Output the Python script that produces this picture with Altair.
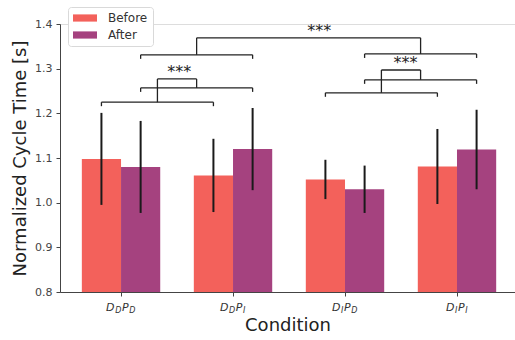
import altair as alt
import pandas as pd

# ---------------- data ----------------
groups = [0, 1, 2, 3]
label_main = [("D", "P"), ("D", "P"), ("D", "P"), ("D", "P")]
label_sub = [("D", "D"), ("D", "I"), ("I", "D"), ("I", "I")]
phases = ["Before", "After"]
before_mean = [1.098, 1.061, 1.052, 1.081]
before_err = [0.103, 0.082, 0.044, 0.084]
after_mean = [1.080, 1.120, 1.030, 1.119]
after_err = [0.103, 0.092, 0.053, 0.089]
colors = ["#F3615B", "#A5427F"]

# significance brackets: (group a, group b, phase, height)
bracket_defs = [
    (0, 1, "Before", 1.225),
    (0, 1, "After", 1.257),
    (2, 3, "Before", 1.246),
    (2, 3, "After", 1.275),
    (0, 1, "After", 1.331),
    (2, 3, "After", 1.333),
]
# connectors between bracket midpoints: (bracket i, bracket j, top height)
connector_defs = [(0, 1, 1.277), (2, 3, 1.297), (4, 5, 1.369)]
star_x = [0.52, 2.54, 1.77]
star_text = ["***", "***", "***"]

# ---------------- layout constants ----------------
W, H = 455, 268
X_DOMAIN = [-0.545, 3.518]
Y_DOMAIN = [0.8, 1.4]
BAR_W = 0.35
TICK = 0.009
PX = W / (X_DOMAIN[1] - X_DOMAIN[0])  # pixels per x unit
FONT = "DejaVu Sans"

offset = {"Before": -BAR_W / 2, "After": BAR_W / 2}

rows = []
for g in groups:
    for ph, means, errs in (("Before", before_mean, before_err), ("After", after_mean, after_err)):
        c = g + offset[ph]
        rows.append(dict(phase=ph, xc=c, xl=c - BAR_W / 2, xr=c + BAR_W / 2,
                         mean=means[g], lo=means[g] - errs[g], hi=means[g] + errs[g], base=0.8))
bars = pd.DataFrame(rows)

segs = []
mids = []
for a, b, ph, y in bracket_defs:
    xa, xb = a + offset[ph], b + offset[ph]
    segs.append(dict(x=xa, x2=xb, y=y, y2=y))
    segs.append(dict(x=xa, x2=xa, y=y, y2=y - TICK))
    segs.append(dict(x=xb, x2=xb, y=y, y2=y - TICK))
    mids.append(((xa + xb) / 2, y))
for i, j, top in connector_defs:
    (xi, yi), (xj, yj) = mids[i], mids[j]
    segs.append(dict(x=xi, x2=xi, y=yi, y2=top))
    segs.append(dict(x=xi, x2=xj, y=top, y2=top))
    segs.append(dict(x=xj, x2=xj, y=yj, y2=top))
segs = pd.DataFrame(segs)

stars = pd.DataFrame(dict(x=star_x, y=[c[2] for c in connector_defs], t=star_text))

# tick labels with subscripts
EM = {"D": 0.770, "P": 0.603, "I": 0.295}
MAIN_FS, SUB_FS = 11, 8
main_rows, sub_rows = [], []
for g in groups:
    pieces = [(label_main[g][0], "m"), (label_sub[g][0], "s"), (label_main[g][1], "m"), (label_sub[g][1], "s")]
    widths = [EM[ch] * (MAIN_FS if k == "m" else SUB_FS) + 0.6 for ch, k in pieces]
    start = -sum(widths) / 2
    for (ch, k), w in zip(pieces, widths):
        row = dict(x=g + start / PX, t=ch)
        (main_rows if k == "m" else sub_rows).append(row)
        start += w
main_lab = pd.DataFrame(main_rows)
sub_lab = pd.DataFrame(sub_rows)

# ---------------- chart ----------------
xscale = alt.Scale(domain=X_DOMAIN, nice=False, zero=False)
yscale = alt.Scale(domain=Y_DOMAIN, nice=False, zero=False)
x_axis = alt.Axis(values=groups, labels=False, tickSize=4, title="Condition",
                  titleFontSize=18, titleFontWeight="normal", titleColor="#222",
                  titlePadding=20, domainColor="#444", tickColor="#444", grid=False)
y_axis = alt.Axis(values=[0.8, 0.9, 1.0, 1.1, 1.2, 1.3, 1.4], format=".1f", tickSize=4,
                  labelFontSize=11, labelColor="#444", labelPadding=4,
                  title="Normalized Cycle Time [s]", titleFontSize=18,
                  titleFontWeight="normal", titleColor="#222", titlePadding=5,
                  domainColor="#444", tickColor="#444", grid=False)

bar_layer = alt.Chart(bars).mark_bar().encode(
    x=alt.X("xl:Q", scale=xscale, axis=x_axis),
    x2="xr:Q",
    y=alt.Y("mean:Q", scale=yscale, axis=y_axis),
    y2="base:Q",
    color=alt.Color("phase:N", scale=alt.Scale(domain=phases, range=colors),
                    legend=alt.Legend(orient="none", legendX=8, legendY=-17, title=None,
                                      symbolType="M-1,-0.6H3V0.6H-1Z", symbolSize=144,
                                      symbolStrokeWidth=0, symbolOpacity=1,
                                      labelFontSize=12, labelColor="#333", labelOffset=23,
                                      fillColor="white", strokeColor="#d9d9d9",
                                      padding=5, cornerRadius=3, rowPadding=5)),
)

err_layer = alt.Chart(bars).mark_rule(color="#1a1a1a", strokeWidth=2).encode(
    x=alt.X("xc:Q", scale=xscale, axis=x_axis),
    y=alt.Y("lo:Q", scale=yscale, axis=y_axis),
    y2="hi:Q",
)

bracket_layer = alt.Chart(segs).mark_rule(color="#222", strokeWidth=1.3).encode(
    x=alt.X("x:Q", scale=xscale, axis=x_axis),
    x2="x2:Q",
    y=alt.Y("y:Q", scale=yscale, axis=y_axis),
    y2="y2:Q",
)

star_layer = alt.Chart(stars).mark_text(fontSize=16, baseline="alphabetic", dy=-2, color="#222").encode(
    x=alt.X("x:Q", scale=xscale, axis=x_axis),
    y=alt.Y("y:Q", scale=yscale, axis=y_axis),
    text="t:N",
)

main_layer = alt.Chart(main_lab).mark_text(fontSize=MAIN_FS, fontStyle="italic", align="left",
                                           baseline="alphabetic", dy=19, color="#333").encode(
    x=alt.X("x:Q", scale=xscale, axis=x_axis),
    y=alt.datum(0.8, scale=yscale, axis=y_axis),
    text="t:N",
)
sub_layer = alt.Chart(sub_lab).mark_text(fontSize=SUB_FS, fontStyle="italic", align="left",
                                         baseline="alphabetic", dy=21, color="#333").encode(
    x=alt.X("x:Q", scale=xscale, axis=x_axis),
    y=alt.datum(0.8, scale=yscale, axis=y_axis),
    text="t:N",
)

chart = alt.layer(bar_layer, err_layer, bracket_layer, star_layer, main_layer, sub_layer).properties(
    width=W, height=H,
    autosize=alt.AutoSizeParams(type="none"),
    padding={"left": 60, "top": 24, "right": 0, "bottom": 48},
    background="white",
).configure_view(stroke=None).configure(font=FONT)

chart.save("out.html", embed_options={"renderer": "svg", "actions": False})
